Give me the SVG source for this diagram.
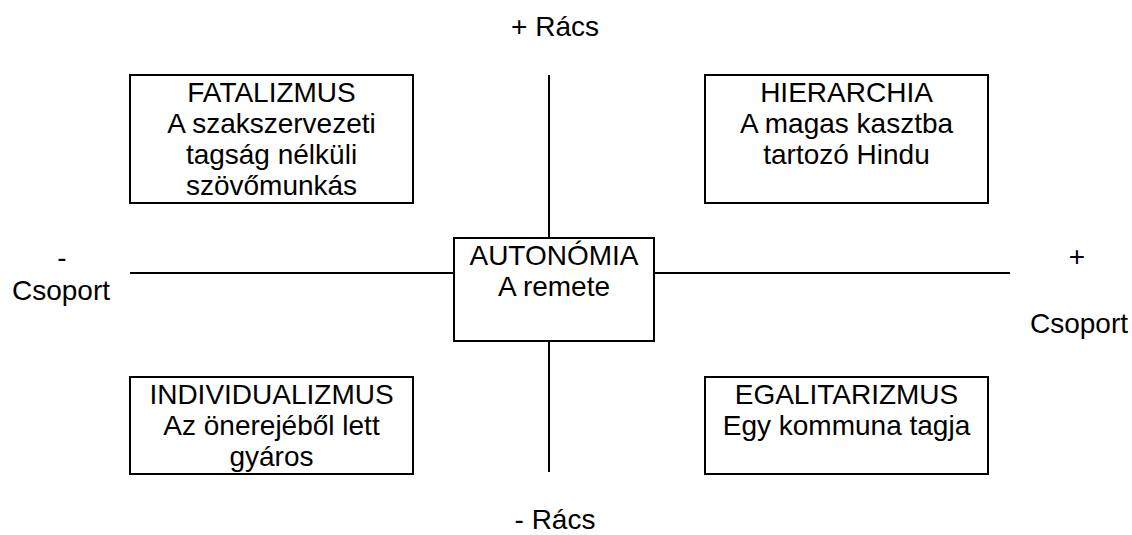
<svg xmlns="http://www.w3.org/2000/svg" width="1132" height="535" viewBox="0 0 1132 535">
<style>
text{font-family:"Liberation Sans",Arial,sans-serif;font-size:28px;fill:#000;text-anchor:middle}
.box{fill:#fff;stroke:#000;stroke-width:2}
.ln{stroke:#000;stroke-width:2;fill:none}
</style>
<rect width="1132" height="535" fill="#fff"/>
<g id="connectors">
<line class="ln" x1="549" y1="75" x2="549" y2="472"/>
<line class="ln" x1="130" y1="273" x2="1010" y2="273"/>
</g>
<g id="labels">
<text x="555" y="36">+ Rács</text>
<text x="555" y="529">- Rács</text>
<text x="62" y="267">-</text>
<text x="61" y="300">Csoport</text>
<text x="1077" y="266">+</text>
<text x="1079" y="333">Csoport</text>
</g>
<g id="fatalizmus">
<rect class="box" x="130" y="75" width="283" height="128"/>
<text x="271.5" y="102">FATALIZMUS</text>
<text x="271.5" y="133">A szakszervezeti</text>
<text x="271.5" y="164">tagság nélküli</text>
<text x="271.5" y="195">szövőmunkás</text>
</g>
<g id="hierarchia">
<rect class="box" x="705" y="75" width="283" height="128"/>
<text x="846.5" y="102">HIERARCHIA</text>
<text x="846.5" y="133">A magas kasztba</text>
<text x="846.5" y="164">tartozó Hindu</text>
</g>
<g id="autonomia">
<rect class="box" x="454" y="238" width="200" height="103"/>
<text x="554" y="265">AUTONÓMIA</text>
<text x="554" y="296">A remete</text>
</g>
<g id="individualizmus">
<rect class="box" x="130" y="377" width="283" height="97"/>
<text x="271.5" y="404">INDIVIDUALIZMUS</text>
<text x="271.5" y="435">Az önerejéből lett</text>
<text x="271.5" y="466">gyáros</text>
</g>
<g id="egalitarizmus">
<rect class="box" x="705" y="377" width="283" height="97"/>
<text x="846.5" y="404">EGALITARIZMUS</text>
<text x="846.5" y="435">Egy kommuna tagja</text>
</g>
</svg>
